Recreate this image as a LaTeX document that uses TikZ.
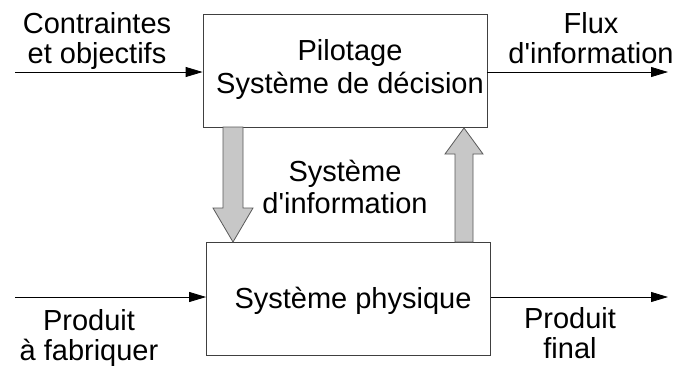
\documentclass[tikz,border=0pt]{standalone}
\usepackage{fontspec}
\setmainfont{Liberation Sans}
\usetikzlibrary{arrows.meta}
\begin{document}
\begin{tikzpicture}[x=1pt,y=-1pt,
  lbl/.style={font=\fontsize{29}{31}\selectfont,align=center,inner sep=0pt,anchor=base},
  boxs/.style={draw=black!75,line width=0.8pt,minimum width=284pt,minimum height=113pt,inner sep=0pt},
  flow/.style={draw=black,line width=0.8pt,-{Triangle[length=17pt,width=10pt]}},
  block/.style={draw=black!65,line width=0.8pt,fill=black!22}]
\useasboundingbox (0,0) rectangle (678,365);
\node[boxs] (top) at (345,71) {};
\node[boxs] (bot) at (348.5,298.5) {};
\node[lbl,font=\fontsize{29}{33}\selectfont] (tt) at (350,93) {Pilotage\\Système de décision};
\node[lbl] (bt) at (353,308) {Système physique};
\node[lbl,font=\fontsize{29}{32}\selectfont] (mid) at (345,213) {Système\\d\textquotesingle information};
\node[lbl,font=\fontsize{29}{30}\selectfont] (ci) at (97,63) {Contraintes\\et objectifs};
\node[lbl,font=\fontsize{29}{30}\selectfont] (fi) at (591,63) {Flux\\d\textquotesingle information};
\node[lbl,font=\fontsize{29}{30}\selectfont] (pi) at (89,360) {Produit\\à fabriquer};
\node[lbl,font=\fontsize{29}{30}\selectfont] (pf) at (570,358) {Produit\\final};
\coordinate (inA) at (15,72);
\coordinate (outA) at (668,72);
\coordinate (inB) at (15,297);
\coordinate (outB) at (668,297);
\draw[flow] (inA) -- (inA -| top.west);
\draw[flow] (top.east |- outA) -- (outA);
\draw[flow] (inB) -- (inB -| bot.west);
\draw[flow] (bot.east |- outB) -- (outB);
% down block arrow
\draw[block] (223,127) -- (243,127) -- (243,208) -- (253,208) -- (233,242) -- (213,208) -- (223,208) -- cycle;
% up block arrow
\draw[block] (455,242) -- (473,242) -- (473,154) -- (483,154) -- (464,128) -- (445,154) -- (455,154) -- cycle;
\end{tikzpicture}
\end{document}
